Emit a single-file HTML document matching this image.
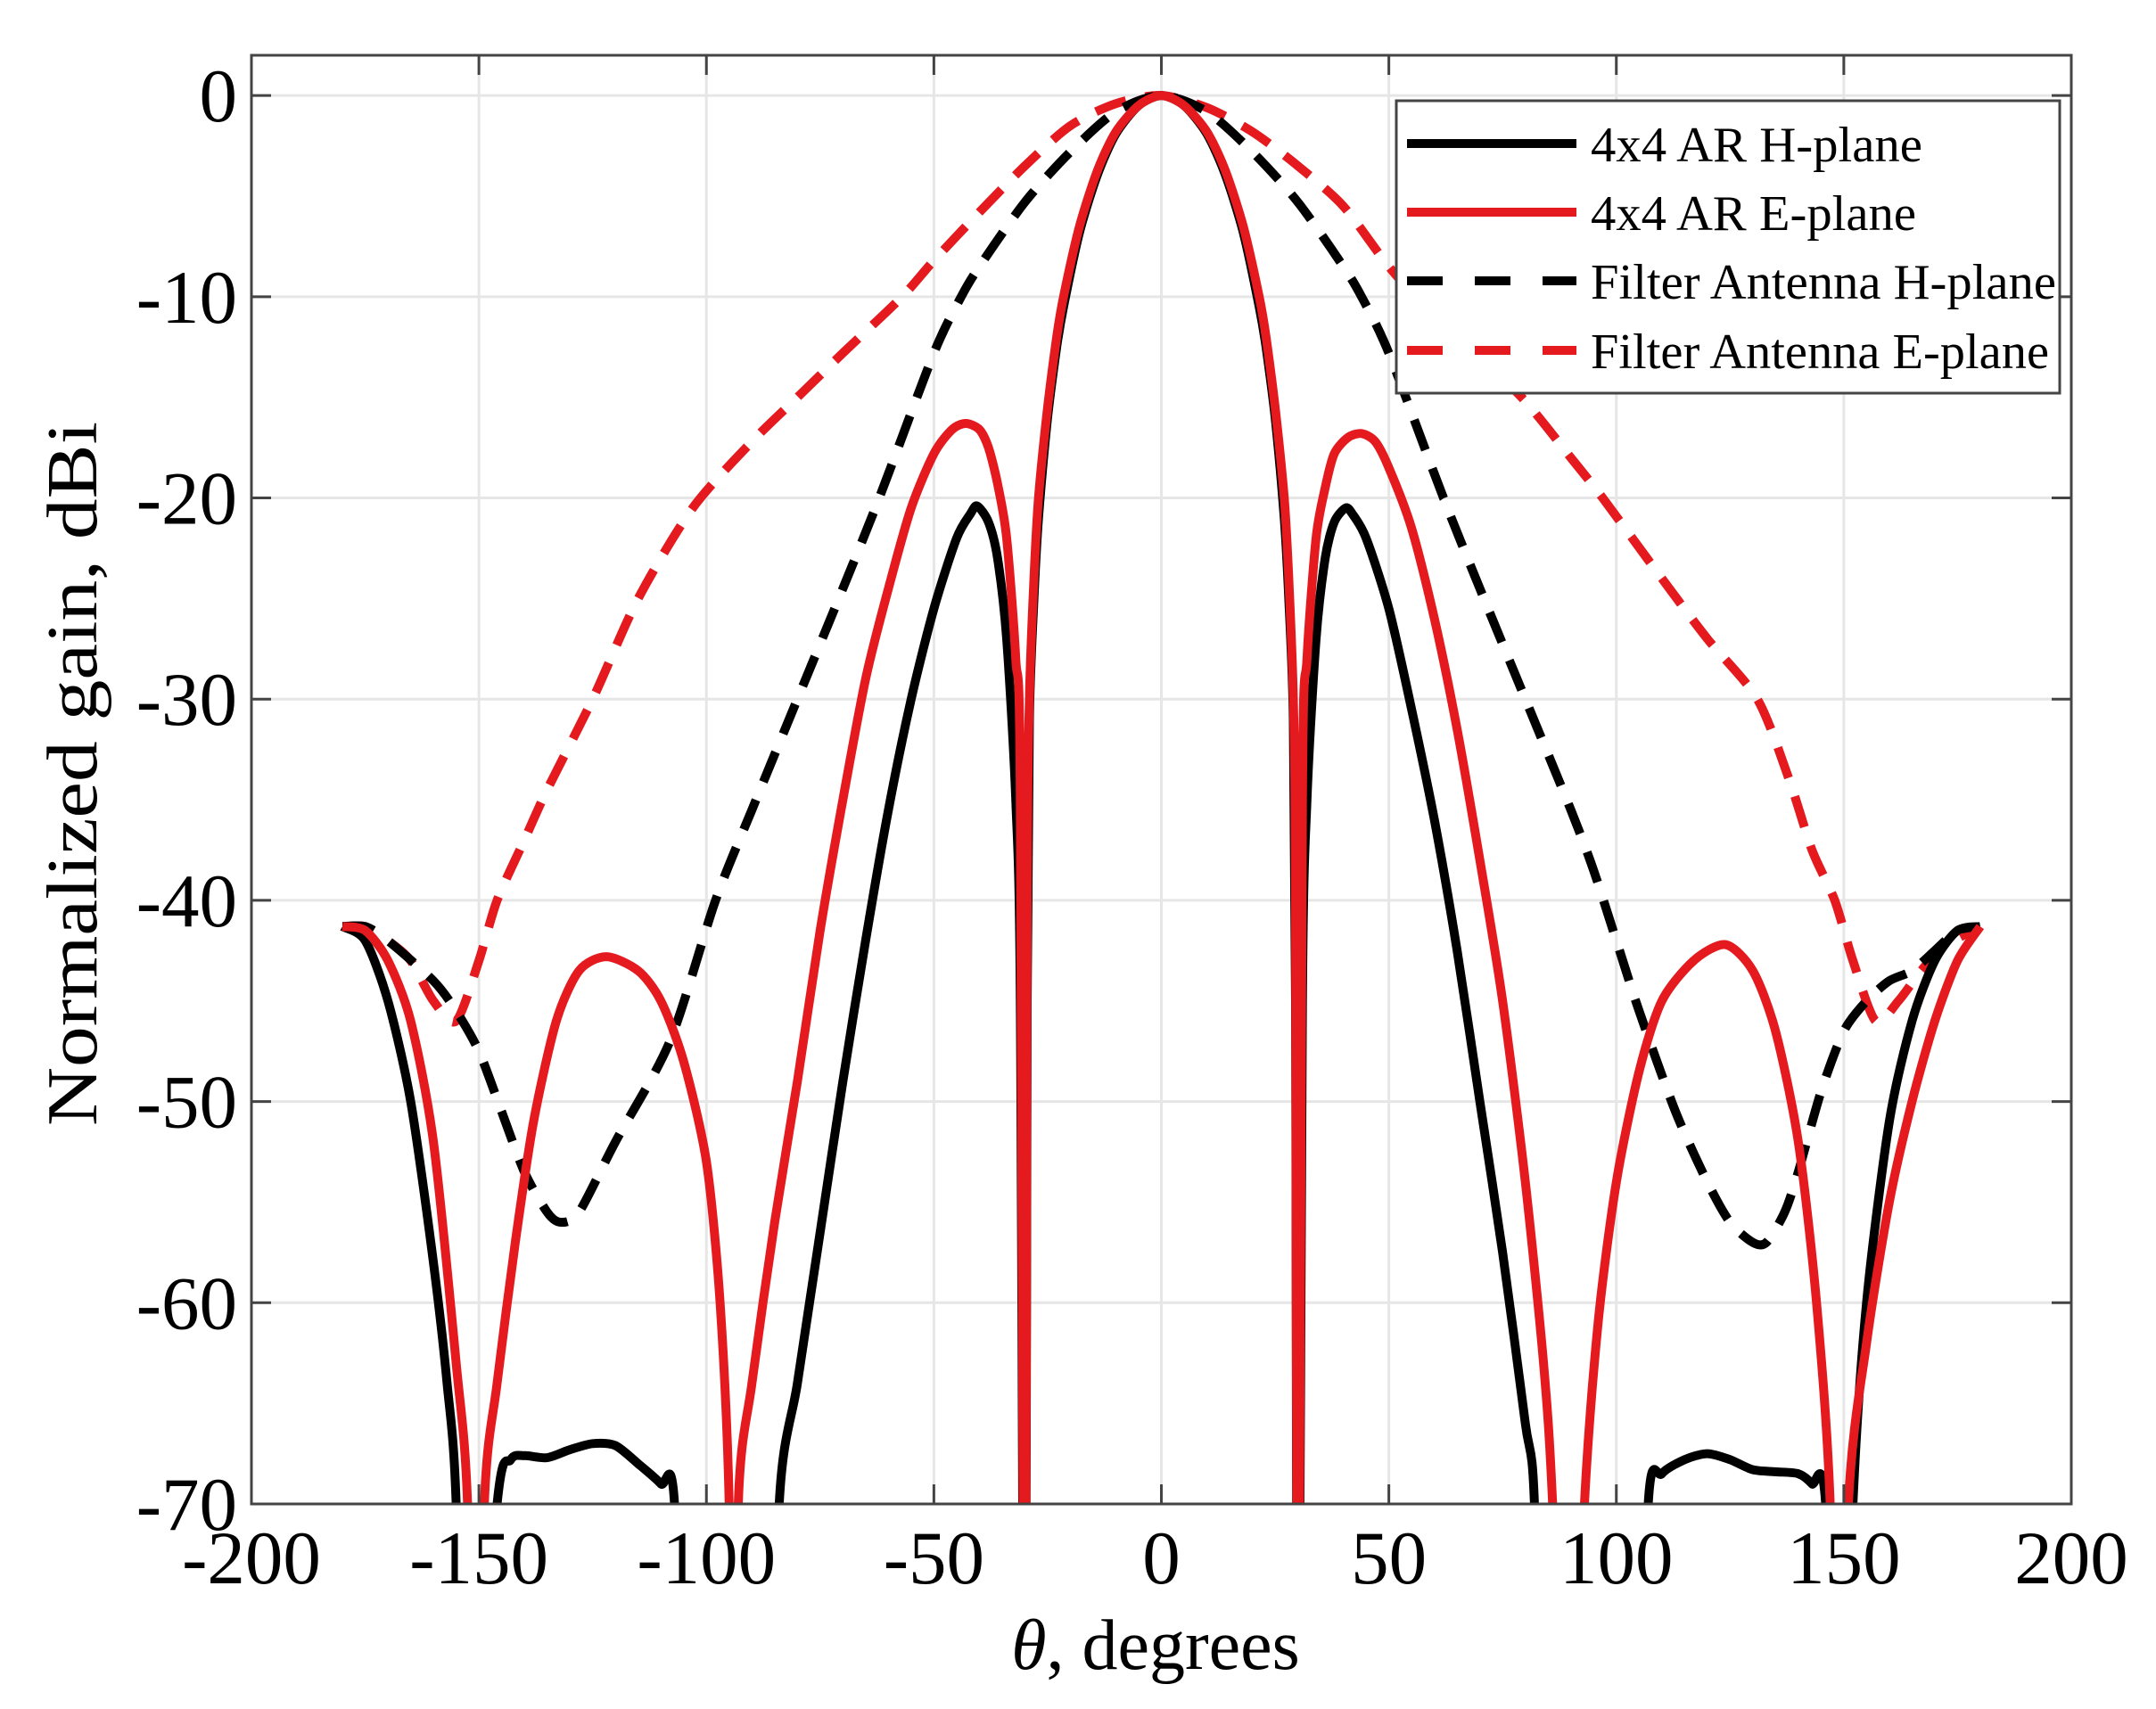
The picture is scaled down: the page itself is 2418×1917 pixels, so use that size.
<!DOCTYPE html>
<html><head><meta charset="utf-8"><style>
html,body{margin:0;padding:0;background:#fff;overflow:hidden;}
svg{display:block;font-family:"Liberation Serif",serif;}
</style></head><body>
<svg id="chart" width="2418" height="1917" viewBox="0 0 2418 1917" xmlns="http://www.w3.org/2000/svg">
<rect x="0" y="0" width="2418" height="1917" fill="#fff"/>
<defs><clipPath id="plotclip"><rect x="282" y="62" width="2041" height="1625"/></clipPath></defs>
<g id="grid"></g>
<g id="series" clip-path="url(#plotclip)"></g>
<g id="axes"></g>
<g id="legend">
<rect x="1566" y="113" width="744" height="328" fill="#fff" stroke="#444" stroke-width="3"/>
<g>
<line x1="1578" y1="161" x2="1768" y2="161" stroke="#000" stroke-width="10"/>
<text x="1784" y="181" font-size="56" textLength="372" lengthAdjust="spacingAndGlyphs">4x4 AR H-plane</text></g>
<g>
<line x1="1578" y1="238" x2="1768" y2="238" stroke="#e41a1f" stroke-width="10"/>
<text x="1784" y="258" font-size="56" textLength="365" lengthAdjust="spacingAndGlyphs">4x4 AR E-plane</text></g>
<g>
<line x1="1578" y1="315" x2="1768" y2="315" stroke="#000" stroke-width="10" stroke-dasharray="40 36"/>
<text x="1784" y="335" font-size="56" textLength="522" lengthAdjust="spacingAndGlyphs">Filter Antenna H-plane</text></g>
<g>
<line x1="1578" y1="393" x2="1768" y2="393" stroke="#e41a1f" stroke-width="10" stroke-dasharray="40 36"/>
<text x="1784" y="413" font-size="56" textLength="514" lengthAdjust="spacingAndGlyphs">Filter Antenna E-plane</text></g>
</g>
<text transform="translate(108,868) rotate(-90)" text-anchor="middle" font-size="80" textLength="790" lengthAdjust="spacingAndGlyphs">Normalized gain, dBi</text>
<text x="1296" y="1872" text-anchor="middle" font-size="80"><tspan font-style="italic">θ</tspan>, degrees</text>
</svg>
<script>
const xTicks=[-200,-150,-100,-50,0,50,100,150,200];
const yTicks=[0,-10,-20,-30,-40,-50,-60,-70];
const arHTheta=[-180,-175,-170,-165,-160,-157,-155,-153,-146,-143,-140,-135,-130,-125,-120,-115,-110,-107,-104,-86,-84,-80,-75,-70,-65,-60,-55,-50,-45,-42,-40.5,-38,-36,-34,-32,-31,-30,-29.5,-29,-28,-27,-25,-23,-21.5,-18,-14,-10,-5,0,5,10,14,18,21.5,23,25,27,28,29,29.5,30,31,32,34,36,38,40.5,42,45,50,55,60,65,70,75,80,82,84,104,107,110,115,120,125,130,135,140,143,146,149,152,155,160,165,170,175,180];
const arHGain=[-41.3,-42,-45,-50,-58,-64,-70,-90,-70,-67.8,-67.6,-67.7,-67.3,-67,-67.1,-68,-69,-70,-90,-90,-70,-64,-56.5,-49,-42,-35.5,-30,-25.5,-22,-20.8,-20.4,-21.2,-23,-27,-35,-45,-90,-45,-31,-25,-21,-16,-12.5,-10.5,-6.8,-3.9,-1.9,-0.5,0,-0.5,-1.9,-3.9,-6.8,-10.5,-12.5,-16,-21,-25,-31,-45,-90,-45,-35,-27,-23,-21.2,-20.5,-20.8,-22,-25.5,-30.5,-36,-42.5,-50,-57.5,-66,-70,-90,-90,-70,-68.5,-67.8,-67.5,-67.8,-68.3,-68.4,-68.5,-69,-70,-90,-70,-60,-51,-46,-43,-41.5,-41.3];
const arETheta=[-180,-175,-170,-165,-160,-155,-152.5,-150.5,-148.8,-146,-142,-138,-133,-128,-122,-115,-110,-105,-100,-97,-95,-94,-93,-90,-85,-80,-75,-70,-65,-60,-55,-50,-46,-43,-40,-38,-36,-34,-32,-31,-30,-29.5,-29,-28,-27,-25,-23,-21.5,-18,-14,-10,-5,0,5,10,14,18,21.5,23,25,27,28,29,29.5,30,31,32,34,36,38,41,44,47,50,55,60,65,70,75,80,84,86,89.5,93,96,100,105,110,117,124,130,135,140,144,147,149,151,155,160,165,170,175,180];
const arEGain=[-41.3,-41.5,-43,-46,-52,-63,-70,-90,-70,-64,-57,-51,-46,-43.5,-42.8,-43.5,-45,-48,-53,-60,-70,-90,-70,-64,-56,-49,-41.5,-35,-29,-24.5,-20.5,-17.8,-16.6,-16.3,-16.6,-17.5,-19.3,-22,-28,-35,-90,-40,-30,-24,-20,-15.5,-12,-10,-6.5,-3.7,-1.8,-0.5,0,-0.5,-1.8,-3.7,-6.5,-10,-12,-15.5,-20,-24,-30,-40,-90,-35,-28,-22,-19.5,-17.8,-17,-16.8,-17.2,-18.5,-21.5,-26,-31.5,-38,-45,-54,-63,-70,-90,-70,-61,-54,-48.5,-45,-43,-42.2,-43.5,-46.5,-52,-60,-70,-90,-70,-62,-55,-50,-46,-43,-41.3];
const filtHTheta=[-180,-175,-170,-160,-155,-150,-145,-140,-135,-132,-128,-120,-108,-98,-90,-80,-70,-62,-50,-44,-40,-30,-20,-10,0,10,20,30,40,44,50,62,70,80,90,95,100,105,113,120,125,130,133,137,140,145,150,155,160,165,170,175,180];
const filtHGain=[-41.3,-41.3,-42,-44,-45.5,-47.5,-50.5,-53.5,-55.5,-56,-55.5,-52,-47,-40,-35.5,-30,-24.5,-20,-12.8,-10,-8.5,-5.3,-2.8,-0.8,0,-0.8,-2.8,-5.3,-8.5,-10,-12.8,-20,-24.5,-30,-35.5,-38.5,-42,-45.5,-50.5,-54,-56,-57,-57,-55.5,-53.5,-49.5,-46.5,-45,-44,-43.5,-42.5,-41.5,-41.3];
const filtETheta=[-180,-175,-170,-165,-160,-155,-150,-146,-140,-135,-125,-115,-103,-90,-80,-70,-57,-50,-40,-30,-20,-10,0,10,20,30,40,50,60,70,80,90,97,110,120,131,138,143,148,152,157,162,167,172,180];
const filtEGain=[-41.3,-41.3,-42,-43,-45,-46,-43,-40,-37,-34.5,-30,-25,-20.5,-17.2,-15,-12.8,-10,-8.2,-5.8,-3.5,-1.5,-0.4,0,-0.6,-1.8,-3.5,-5.5,-8.5,-11,-13,-15.2,-18,-20,-24,-27,-30,-34,-37.5,-40,-43,-46,-45,-43.5,-42.3,-41.3];

const NS='http://www.w3.org/2000/svg';
const L=282,R=2323,T=62,B=1687;
function xs(t){return L+(t+200)*(R-L)/400;}
function ys(g){return B-(g+70)*(B-T)/72;}
function mk(tag,attrs,parent){const e=document.createElementNS(NS,tag);for(const k in attrs)e.setAttribute(k,attrs[k]);parent.appendChild(e);return e;}
const grid=document.getElementById('grid'),axes=document.getElementById('axes'),series=document.getElementById('series');
xTicks.forEach(t=>{
  const gl=mk('line',{x1:xs(t),x2:xs(t),y1:T,y2:B,stroke:'#e6e6e6','stroke-width':3},grid);
  
  
  mk('line',{x1:xs(t),x2:xs(t),y1:B,y2:B-22,stroke:'#444','stroke-width':3},axes);
  mk('line',{x1:xs(t),x2:xs(t),y1:T,y2:T+22,stroke:'#444','stroke-width':3},axes);
  const tx=mk('text',{x:xs(t),y:1776,'text-anchor':'middle','font-size':85},axes);
  tx.textContent=String(t);
  
  
});
yTicks.forEach(g=>{
  const gl=mk('line',{x1:L,x2:R,y1:ys(g),y2:ys(g),stroke:'#e6e6e6','stroke-width':3},grid);
  
  
  mk('line',{x1:L,x2:L+22,y1:ys(g),y2:ys(g),stroke:'#444','stroke-width':3},axes);
  mk('line',{x1:R,x2:R-22,y1:ys(g),y2:ys(g),stroke:'#444','stroke-width':3},axes);
  const tx=mk('text',{x:266,y:ys(g)+29,'text-anchor':'end','font-size':85},axes);
  tx.textContent=String(g);
  
  
});
const box=mk('rect',{x:L,y:T,width:R-L,height:B-T,fill:'none',stroke:'#444','stroke-width':3},axes);


function smoothPath(P){
  let d='M'+P[0][0].toFixed(1)+','+P[0][1].toFixed(1);
  for(let i=0;i<P.length-1;i++){
    const p0=P[Math.max(0,i-1)],p1=P[i],p2=P[i+1],p3=P[Math.min(P.length-1,i+2)];
    const k=1/6*0.8;
    const c1=[p1[0]+(p2[0]-p0[0])*k,p1[1]+(p2[1]-p0[1])*k];
    const c2=[p2[0]-(p3[0]-p1[0])*k,p2[1]-(p3[1]-p1[1])*k];
    d+='C'+c1[0].toFixed(1)+','+c1[1].toFixed(1)+' '+c2[0].toFixed(1)+','+c2[1].toFixed(1)+' '+p2[0].toFixed(1)+','+p2[1].toFixed(1);
  }
  return d;
}
function line(th,g,color,dash,name){
  const P=th.map((t,i)=>[xs(t),ys(g[i])]);
  const p=mk('path',{d:smoothPath(P),fill:'none',stroke:color,'stroke-width':10,'stroke-linejoin':'round'},series);
  if(dash)p.setAttribute('stroke-dasharray','36 22');
  
  
}
line(filtETheta,filtEGain,'#e41a1f',true,'series-filter-e-plane');
line(filtHTheta,filtHGain,'#000',true,'series-filter-h-plane');
line(arHTheta,arHGain,'#000',false,'series-ar-h-plane');
line(arETheta,arEGain,'#e41a1f',false,'series-ar-e-plane');
</script>
</body></html>
